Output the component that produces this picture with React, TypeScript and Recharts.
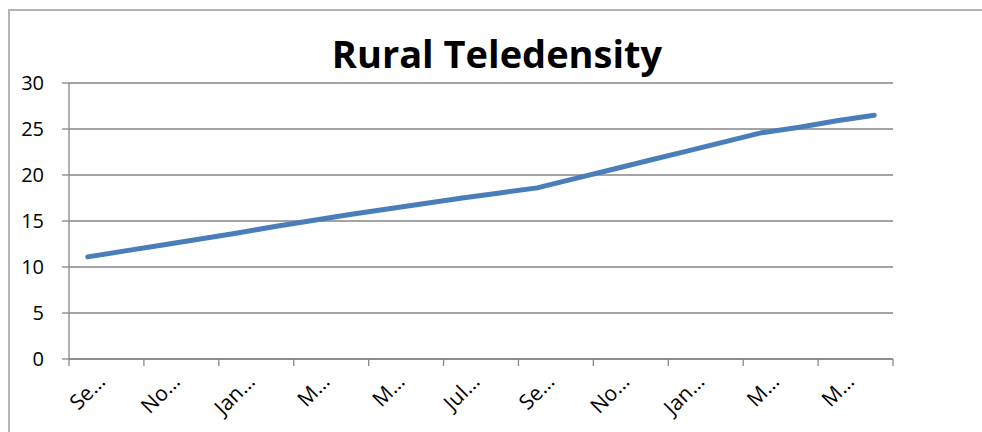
import React from 'react';
import { LineChart, Line, XAxis, YAxis, CartesianGrid } from 'recharts';

// monthly rural teledensity, Sep 2008 .. Jun 2010
const months = [
  'Sep-08', 'Oct-08', 'Nov-08', 'Dec-08', 'Jan-09', 'Feb-09', 'Mar-09', 'Apr-09',
  'May-09', 'Jun-09', 'Jul-09', 'Aug-09', 'Sep-09', 'Oct-09', 'Nov-09', 'Dec-09',
  'Jan-10', 'Feb-10', 'Mar-10', 'Apr-10', 'May-10', 'Jun-10',
];
const teledensity = [
  11.1, 11.75, 12.4, 13.05, 13.7, 14.4, 15.05, 15.7,
  16.3, 16.9, 17.5, 18.05, 18.6, 19.6, 20.6, 21.6,
  22.6, 23.6, 24.6, 25.2, 25.9, 26.5,
];
const tickLabels = ['Se…', 'No…', 'Jan…', 'M…', 'M…', 'Jul…', 'Se…', 'No…', 'Jan…', 'M…', 'M…'];
const yTicks = [0, 5, 10, 15, 20, 25, 30];

const data = months.map((m, i) => ({ month: m, pos: i + 0.5, value: teledensity[i] }));
const xTicks = tickLabels.map((_, i) => i * 2).concat(months.length);

const W = 982;
const H = 432;
const PLOT_LEFT = 69;
const PLOT_RIGHT = 893;
const BAND = (PLOT_RIGHT - PLOT_LEFT) / months.length;
const GRAY = '#868686';
const FRAME = '#b4b4b4';
const FONT = '"Open Sans", "Noto Sans", sans-serif';

const XTick = (props: any) => {
  const { x, y, payload } = props;
  const label = tickLabels[payload.value / 2];
  if (!label) return null;
  const ax = x + BAND;
  const ay = y + 15;
  return (
    <text
      x={ax}
      y={ay}
      transform={`rotate(-45 ${ax} ${ay})`}
      textAnchor="end"
      fontSize={21}
      fontFamily={FONT}
      fill="#000"
    >
      {label}
    </text>
  );
};

const App = () => {
  return (
    <div style={{ position: 'fixed', left: 0, top: 0, width: W, height: H, background: '#fff', overflow: 'hidden' }}>
      {/* frame of the embedded chart object */}
      <div style={{ position: 'absolute', left: 8, top: 9, width: W - 8, height: 2, background: FRAME }} />
      <div style={{ position: 'absolute', left: 8, top: 9, width: 2, height: H - 9, background: FRAME }} />
      <div
        style={{
          position: 'absolute',
          left: 0,
          width: W,
          top: 28,
          textAlign: 'center',
          paddingLeft: 12,
          boxSizing: 'border-box',
          fontFamily: FONT,
          fontWeight: 700,
          fontSize: 38,
          lineHeight: '50px',
          color: '#000',
        }}
      >
        Rural Teledensity
      </div>
      <div style={{ position: 'absolute', left: 0, top: 0 }}>
        <LineChart width={W} height={H} data={data} margin={{ top: 83, right: W - PLOT_RIGHT, left: 9, bottom: 13 }}>
          <CartesianGrid horizontal vertical={false} stroke={GRAY} strokeWidth={1.3} />
          <XAxis
            dataKey="pos"
            type="number"
            domain={[0, months.length]}
            ticks={xTicks}
            interval={0}
            height={60}
            tickSize={7}
            axisLine={{ stroke: GRAY, strokeWidth: 1.3 }}
            tickLine={{ stroke: GRAY, strokeWidth: 1.3 }}
            tick={<XTick />}
          />
          <YAxis
            type="number"
            domain={[0, 30]}
            ticks={yTicks}
            interval={0}
            width={60}
            tickSize={7}
            tickMargin={18}
            axisLine={{ stroke: GRAY, strokeWidth: 1.3 }}
            tickLine={{ stroke: GRAY, strokeWidth: 1.3 }}
            tick={{ fill: '#000', fontSize: 20, fontFamily: FONT }}
          />
          <Line
            type="linear"
            dataKey="value"
            stroke="#4a7ebb"
            strokeWidth={5}
            strokeLinecap="round"
            dot={false}
            activeDot={false}
            isAnimationActive={false}
          />
        </LineChart>
      </div>
    </div>
  );
};

export default App;
